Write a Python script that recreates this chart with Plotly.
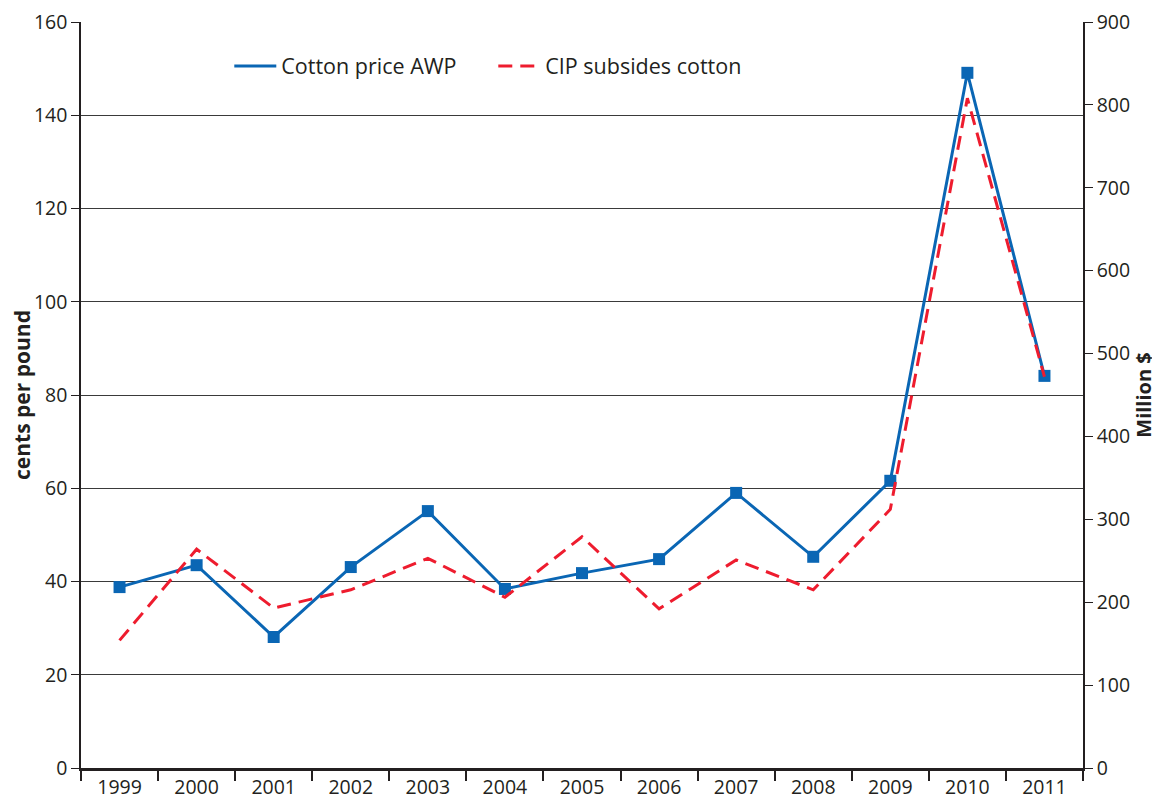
import plotly.graph_objects as go

years = ['1999', '2000', '2001', '2002', '2003', '2004', '2005',
         '2006', '2007', '2008', '2009', '2010', '2011']
cotton_price_awp = [38.8, 43.5, 28.1, 43.1, 55.1, 38.4, 41.8,
                    44.8, 59.0, 45.3, 61.6, 149.1, 84.1]
cip_subsides = [154, 264, 193, 215, 253, 206, 279,
                192, 251, 215, 312, 808, 472]

blue = '#0a66b4'
red = '#ee1c2e'
font_family = 'Open Sans, DejaVu Sans, sans-serif'

fig = go.Figure()

fig.add_trace(go.Scatter(
    x=years, y=cotton_price_awp, name='Cotton price AWP',
    mode='lines', line=dict(color=blue, width=3), yaxis='y'))
fig.add_trace(go.Scatter(
    x=years, y=cip_subsides, name='CIP subsides cotton',
    mode='lines', line=dict(color=red, width=3, dash='14px,8px'),
    yaxis='y2'))
# markers drawn on top, kept out of the legend
fig.add_trace(go.Scatter(
    x=years, y=cotton_price_awp, mode='markers', showlegend=False,
    marker=dict(symbol='square', size=12, color=blue), yaxis='y'))

# page body has an 8px default margin on the left/top, so the figure is 8px smaller
fig.update_layout(
    width=1152, height=795,
    margin=dict(l=73, r=77, t=14, b=35),
    paper_bgcolor='white', plot_bgcolor='white',
    font=dict(family=font_family, size=19.5, color='#231f20'),
    showlegend=True,
    legend=dict(orientation='h', x=0.148, y=0.941, xanchor='left',
                yanchor='middle', entrywidth=207, entrywidthmode='pixels',
                itemwidth=42,
                font=dict(size=21.5), bgcolor='rgba(0,0,0,0)'),
    xaxis=dict(type='category', range=[-0.5, 12.5], automargin=False,
               tickson='boundaries', ticks='outside', ticklen=10,
               tickwidth=1.5, tickcolor='#231f20',
               showline=True, linecolor='#231f20', linewidth=2.5,
               showgrid=False, ticklabeloverflow='allow'),
    yaxis=dict(range=[0, 160], dtick=20, ticks='outside', ticklen=8,
               automargin=False, ticklabeloverflow='allow',
               tickcolor='#231f20', showline=True, linecolor='#231f20',
               linewidth=1.5, showgrid=True, gridcolor='#3a3a3a',
               gridwidth=1.2, zeroline=False,
               title=dict(text='<b>cents per pound</b>', standoff=4,
                          font=dict(size=21))),
    yaxis2=dict(range=[0, 900], dtick=100, overlaying='y', side='right',
                automargin=False, ticklabeloverflow='allow',
                ticks='outside', ticklen=8, tickcolor='#231f20',
                showline=True, linecolor='#231f20', linewidth=1.5,
                showgrid=False, zeroline=False,
                title=dict(text='<b>Million $</b>', standoff=6,
                           font=dict(size=20))),
)

fig.write_html('out.html')
